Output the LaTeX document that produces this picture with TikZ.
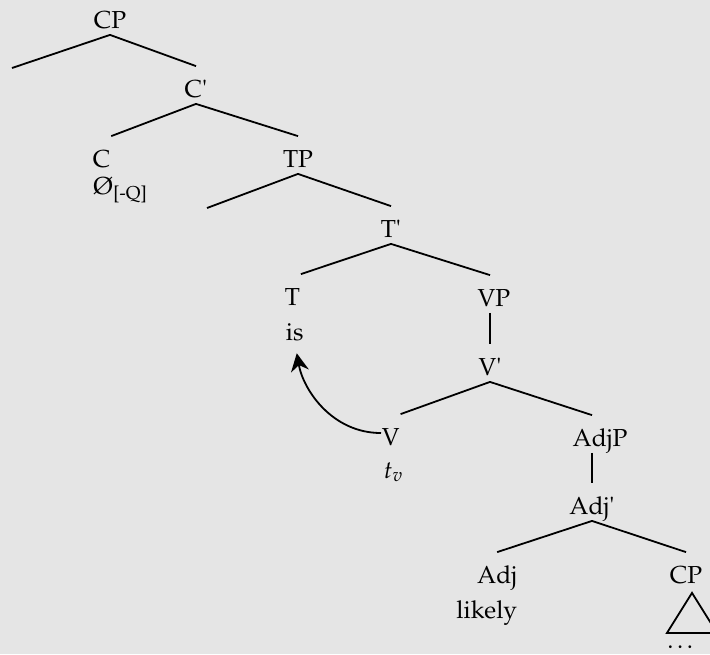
\documentclass[tikz,border=0pt]{standalone}
\usepackage[T1]{fontenc}
\usepackage{mathpazo}
\usepackage{textcomp}
\usetikzlibrary{arrows.meta}
\definecolor{bggray}{HTML}{E5E5E5}
\begin{document}
\begin{tikzpicture}[x=0.5pt, y=-0.5pt, line width=0.9pt,
  font=\fontsize{12.3}{14}\selectfont,
  cat/.style={inner sep=0pt, text height=15pt, text depth=3pt, anchor=base},
  word/.style={inner sep=0pt, anchor=base},
  move/.style={-{Stealth[length=9pt, width=9pt, inset=3pt]}, shorten >=6pt}]
\clip (0,0) rectangle (710,654);
\fill[bggray] (0,0) rectangle (710,654);
\node[cat] (cp) at (110,28) {CP};
\node[cat] (cbar) at (196,97) {C\textquotesingle};
\node[cat, anchor=base west] (c) at (92,167) {C};
\node[word, anchor=base west] (cnull) at (92,194) {\O\textsubscript{[-Q]}};
\node[cat] (tp) at (298,167) {TP};
\node[cat] (tbar) at (391,237) {T\textquotesingle};
\node[cat, anchor=base west] (t) at (284,305) {T};
\node[word, anchor=base west] (is) at (285,340) {is};
\node[cat] (vp) at (494,306) {VP};
\node[cat] (vbar) at (490,375) {V\textquotesingle};
\node[cat, anchor=base west] (v) at (381,445) {V};
\node[word, anchor=base west] (tv) at (383,478) {$t_v$};
\node[cat] (adjp) at (600,446) {AdjP};
\node[cat] (adjbar) at (592,514) {Adj\textquotesingle};
\node[cat, anchor=base east] (adj) at (518,583) {Adj};
\node[word, anchor=base east] (likely) at (518,618) {likely};
\node[cat] (cpb) at (686,583) {CP};
\node[word] (dots) at (682,648) {\dots};
\coordinate (cpspec) at (12,68);
\coordinate (tpspec) at (207,208);
\draw (cp.south) -- (cpspec);
\draw (cp.south) -- (cbar.north);
\draw (cbar.south) -- (c.north east);
\draw (cbar.south) -- (tp.north);
\draw (tp.south) -- (tpspec);
\draw (tp.south) -- (tbar.north);
\draw (tbar.south) -- (t.north east);
\draw (tbar.south) -- (vp.north -| vbar.north);
\draw (vbar.north |- vp.south) -- (vbar.north);
\draw (vbar.south) -- (v.north east);
\draw (vbar.south) -- (adjp.north -| adjbar.north);
\draw (adjbar.north |- adjp.south) -- (adjbar.north);
\draw (adjbar.south) -- (adj.north);
\draw (adjbar.south) -- (cpb.north);
\draw ([xshift=3pt, yshift=-1.5pt]cpb.south) -- ++(-12.5pt,-20pt) -- ++(25pt,0pt) -- cycle;
\draw[move] (v.west) to[out=180, in=-80] (is.south);
\end{tikzpicture}
\end{document}
